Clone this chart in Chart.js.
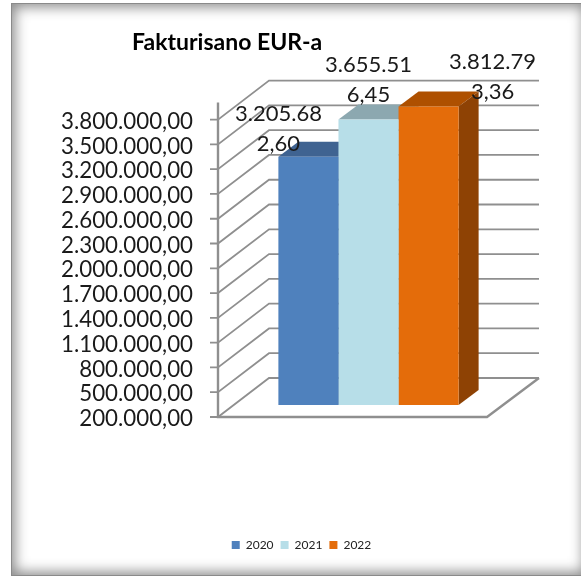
<!DOCTYPE html>
<html><head><meta charset="utf-8">
<style>
html,body{margin:0;padding:0;background:#fff;width:581px;height:576px;overflow:hidden}
#frame{position:absolute;left:11px;top:3px;width:576px;height:573px;box-sizing:border-box;background:#fff;border:1px solid #8a8a8a;box-shadow:inset 0 0 13px 3px #8a8a8a}
canvas{position:absolute;left:0;top:0}
</style>
<script src="https://cdn.jsdelivr.net/npm/chart.js@4"></script>
</head><body>
<div id="frame"></div>
<canvas id="c" width="581" height="576"></canvas>
<script>
const categories = [''];
const seriesNames = ['2020', '2021', '2022'];
const values2020 = [3205682.60];
const values2021 = [3655516.45];
const values2022 = [3812793.36];
const labels2020 = ['3.205.68', '2,60'];
const labels2021 = ['3.655.51', '6,45'];
const labels2022 = ['3.812.79', '3,36'];
const titleText = 'Fakturisano EUR-a';

const FONT = 'Lato, Carlito, sans-serif';
const frontColors = ['#4F81BD', '#B7DEE8', '#E46C0A'];
const topColors = ['#3F6391', '#8CA8B0', '#AE5000'];
const sideColors = ['#385D8A', '#8CA8B0', '#8E4204'];
const labelSets = [labels2020, labels2021, labels2022];
const labelShift = [[-30, -43], [0, -55], [64, -45]];

function fmt(v) {
  return Math.round(v).toString().replace(/\B(?=(\d{3})+$)/g, '.') + ',00';
}

const box3d = {
  id: 'box3d',
  afterLayout(chart) {
    const t = chart.titleBlock;
    t.left = 132; t.right = 340;
    chart.legend.left += 25; chart.legend.right += 25;
  },
  beforeDatasetsDraw(chart) {
    const {ctx, scales: {y}, chartArea: a} = chart;
    const fx = a.left - 16, fy = 12, bx = a.left + 35, by = -27;
    const rx = a.right - 16, brx = a.right + 36;
    const base = y.getPixelForValue(y.min);
    ctx.save();
    ctx.strokeStyle = '#8f8f8f';
    ctx.lineWidth = 1.8;
    ctx.beginPath();
    y.ticks.forEach(t => {
      const p = y.getPixelForValue(t.value);
      ctx.moveTo(fx - 8, p + fy);
      ctx.lineTo(fx, p + fy);
      ctx.lineTo(bx, p + by);
      ctx.lineTo(brx, p + by);
    });
    ctx.stroke();
    ctx.lineWidth = 2.4;
    ctx.beginPath();
    ctx.moveTo(fx, a.top - 5);
    ctx.lineTo(fx, base + fy);
    ctx.lineTo(rx, base + fy);
    ctx.lineTo(brx, base + by);
    ctx.stroke();
    chart.data.datasets.forEach((d, i) => {
      const el = chart.getDatasetMeta(i).data[0];
      const l = el.x - el.width / 2, r = el.x + el.width / 2, t = el.y, b = el.base;
      const dx = 20, dy = -15;
      ctx.fillStyle = topColors[i];
      ctx.beginPath();
      ctx.moveTo(l, t); ctx.lineTo(l + dx, t + dy); ctx.lineTo(r + dx, t + dy); ctx.lineTo(r, t);
      ctx.closePath(); ctx.fill();
      ctx.fillStyle = sideColors[i];
      ctx.beginPath();
      ctx.moveTo(r, t); ctx.lineTo(r + dx, t + dy); ctx.lineTo(r + dx, b + dy); ctx.lineTo(r, b);
      ctx.closePath(); ctx.fill();
    });
    ctx.restore();
  },
  afterDatasetsDraw(chart) {
    const {ctx} = chart;
    ctx.save();
    ctx.font = '22px ' + FONT;
    ctx.fillStyle = '#1a1a1a';
    ctx.textAlign = 'center';
    ctx.textBaseline = 'middle';
    chart.data.datasets.forEach((d, i) => {
      const el = chart.getDatasetMeta(i).data[0];
      labelSets[i].forEach((s, k) => {
        ctx.fillText(s, el.x + labelShift[i][0], el.y + labelShift[i][1] + k * 30);
      });
    });
    ctx.restore();
  }
};

new Chart(document.getElementById('c'), {
  type: 'bar',
  data: {
    labels: categories,
    datasets: [
      {label: seriesNames[0], data: values2020, backgroundColor: frontColors[0], clip: false, base: 200000},
      {label: seriesNames[1], data: values2021, backgroundColor: frontColors[1], clip: false, base: 200000},
      {label: seriesNames[2], data: values2022, backgroundColor: frontColors[2], clip: false, base: 200000}
    ]
  },
  options: {
    responsive: false,
    animation: false,
    layout: {padding: {left: 50, right: 78, top: 0, bottom: 15}},
    datasets: {bar: {categoryPercentage: 0.67, barPercentage: 1}},
    scales: {
      x: {
        grid: {display: false}, border: {display: false},
        ticks: {display: false},
        afterFit: s => { s.height = 127; }
      },
      y: {
        min: 200000, max: 3800000,
        grid: {display: false}, border: {display: false},
        afterFit: s => { s.width = 184; },
        ticks: {
          stepSize: 300000, padding: 33, labelOffset: 14, autoSkip: false,
          color: '#1a1a1a', font: {family: FONT, size: 22.3},
          callback: v => fmt(v)
        }
      }
    },
    plugins: {
      tooltip: {enabled: false},
      title: {
        display: true, text: titleText, align: 'start', color: '#000',
        font: {family: FONT, size: 23, weight: 'bold', lineHeight: 1.2},
        padding: {top: 29, bottom: 51}
      },
      legend: {
        position: 'bottom',
        labels: {boxWidth: 8, boxHeight: 8, padding: 7, color: '#222', font: {family: FONT, size: 12}}
      }
    }
  },
  plugins: [box3d]
});
</script>
</body></html>
